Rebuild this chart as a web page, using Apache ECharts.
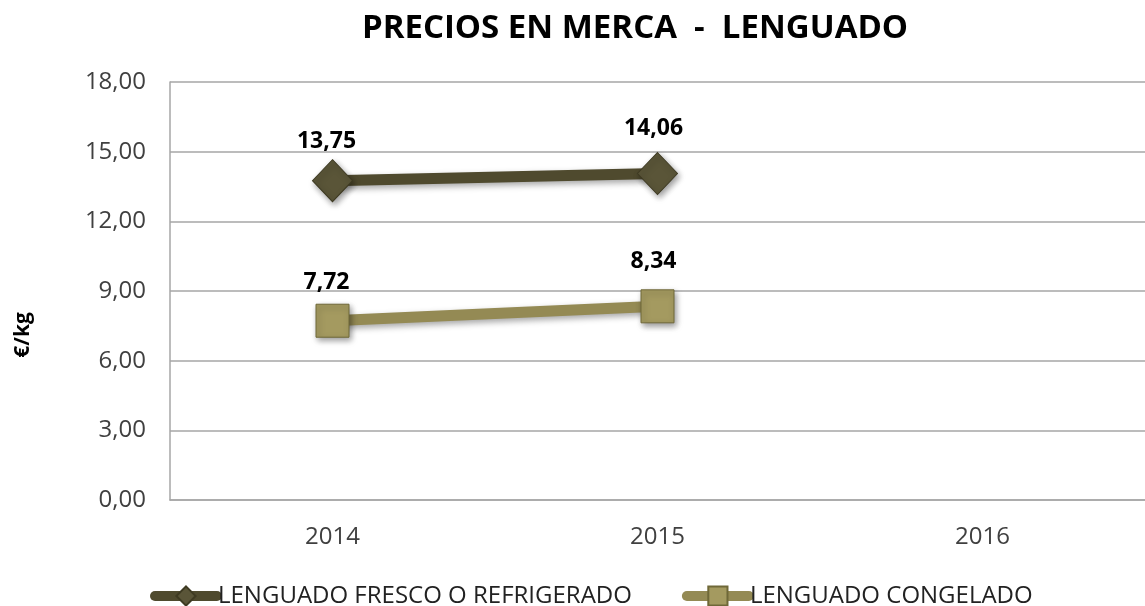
<!DOCTYPE html>
<html><head><meta charset="utf-8">
<script src="https://cdn.jsdelivr.net/npm/echarts@6/dist/echarts.min.js"></script>
<style>html,body{margin:0;padding:0;background:#fff}#c{width:1145px;height:606px}</style>
</head><body><div id="c"></div>
<script>
var categories = ['2014', '2015', '2016'];
var fresco = [13.75, 14.06, null];
var congelado = [7.72, 8.34, null];
var seriesNames = ['LENGUADO FRESCO O REFRIGERADO', 'LENGUADO CONGELADO'];
var yMin = 0, yMax = 18, yStep = 3;

var chart = echarts.init(document.getElementById('c'));
function fmt(v){ return v.toFixed(2).replace('.', ','); }
var font = 'Open Sans';
function withLift(arr) {
  return arr.map(function (v, i) {
    return i === 1 ? { value: v, label: { offset: [-4, -8] } } : { value: v, label: { offset: [-6, -2] } };
  });
}
chart.setOption({
  animation: false,
  title: {
    text: 'PRECIOS EN MERCA  -  LENGUADO',
    left: 630, top: 7, textAlign: 'center',
    textStyle: { fontFamily: font, fontWeight: 'bold', fontSize: 33, color: '#000' }
  },
  graphic: [{
    type: 'text', x: 23, y: 335, rotation: Math.PI / 2,
    style: { text: '€/kg', fontFamily: font, fontWeight: 'bold', fontSize: 21, fill: '#000', align: 'center', verticalAlign: 'middle' }
  }],
  legend: {
    bottom: -2, left: 150, padding: 0,
    itemWidth: 62, itemHeight: 24, itemGap: 50,
    lineStyle: { width: 10, cap: 'round' },
    textStyle: { fontFamily: font, fontSize: 24, color: '#222', padding: [0, 0, 0, -4] },
    data: seriesNames
  },
  grid: { left: 170, top: 82, width: 996, height: 418, containLabel: false },
  xAxis: {
    type: 'category', data: categories, boundaryGap: true,
    axisLine: { lineStyle: { color: '#a6a6a6', width: 1.5 } },
    axisTick: { show: false },
    axisLabel: { fontFamily: font, fontSize: 24, color: '#404040', margin: 25 }
  },
  yAxis: {
    type: 'value', min: yMin, max: yMax, interval: yStep,
    axisLine: { show: true, lineStyle: { color: '#a6a6a6', width: 1.5 } },
    axisTick: { show: false },
    splitLine: { lineStyle: { color: '#a6a6a6', width: 1.5 } },
    axisLabel: { fontFamily: font, fontSize: 24, color: '#404040', margin: 24, formatter: function(v){ return fmt(v); } }
  },
  series: [{
    name: seriesNames[0], type: 'line', data: withLift(fresco),
    symbol: 'diamond', symbolSize: [40, 42],
    lineStyle: { color: '#4f4a2e', width: 11, shadowBlur: 6, shadowColor: 'rgba(0,0,0,0.35)', shadowOffsetX: 2, shadowOffsetY: 3 },
    itemStyle: { color: '#5a5538', borderColor: '#3e3a22', borderWidth: 1, shadowBlur: 6, shadowColor: 'rgba(0,0,0,0.4)', shadowOffsetX: 2, shadowOffsetY: 3 },
    label: { show: true, position: 'top', distance: 4, formatter: function(p){ return fmt(p.value); },
      fontFamily: font, fontWeight: 'bold', fontSize: 23, color: '#000' }
  }, {
    name: seriesNames[1], type: 'line', data: withLift(congelado),
    symbol: 'rect', symbolSize: [33, 33],
    lineStyle: { color: '#948a54', width: 11, shadowBlur: 6, shadowColor: 'rgba(0,0,0,0.35)', shadowOffsetX: 2, shadowOffsetY: 3 },
    itemStyle: { color: '#a49a60', borderColor: '#6f6838', borderWidth: 1, shadowBlur: 6, shadowColor: 'rgba(0,0,0,0.4)', shadowOffsetX: 2, shadowOffsetY: 3 },
    label: { show: true, position: 'top', distance: 8, formatter: function(p){ return fmt(p.value); },
      fontFamily: font, fontWeight: 'bold', fontSize: 23, color: '#000' }
  }]
});
</script></body></html>
